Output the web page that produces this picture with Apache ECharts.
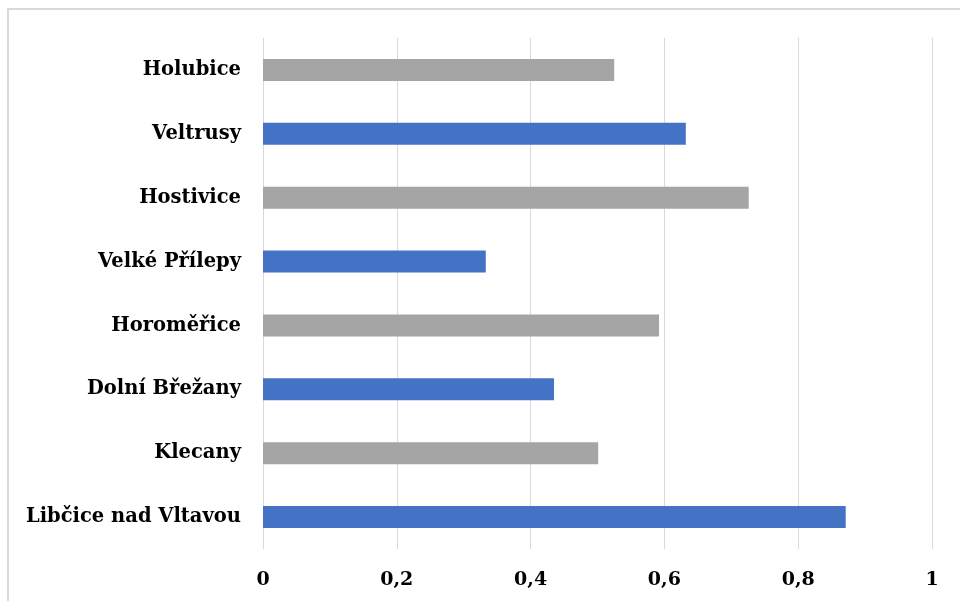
<!DOCTYPE html>
<html>
<head>
<meta charset="utf-8">
<script src="https://cdn.jsdelivr.net/npm/echarts@6/dist/echarts.min.js"></script>
<style>html,body{margin:0;padding:0;background:#fff}#c{width:960px;height:601px}</style>
</head>
<body>
<div id="c"></div>
<script>
const categories = ["Libčice nad Vltavou","Klecany","Dolní Břežany","Horoměřice","Velké Přílepy","Hostivice","Veltrusy","Holubice"];
const values = [0.871,0.501,0.435,0.592,0.333,0.726,0.632,0.525];
const barColors = ["#4472C4","#A5A5A5","#4472C4","#A5A5A5","#4472C4","#A5A5A5","#4472C4","#A5A5A5"];
const xTicks = {min:0,max:1,interval:0.2};

const chart = echarts.init(document.getElementById('c'));
const font = '"DejaVu Serif", serif';
chart.setOption({
  animation:false,
  graphic:[{type:'rect',shape:{x:8,y:9,width:1200,height:1200},style:{fill:'none',stroke:'#d9d9d9',lineWidth:2},silent:true}],
  grid:{left:263,right:28,top:38,bottom:52,containLabel:false},
  xAxis:{type:'value',min:xTicks.min,max:xTicks.max,interval:xTicks.interval,
    axisLine:{show:false},axisTick:{show:false},
    splitLine:{show:true,lineStyle:{color:'#d9d9d9',width:1}},
    axisLabel:{margin:22,color:'#000',fontFamily:font,fontWeight:'bold',fontSize:19,
      formatter:v=>String(Math.round(v*10)/10).replace('.',',')}},
  yAxis:{type:'category',data:categories,
    axisLine:{show:false},axisTick:{show:false},
    axisLabel:{margin:22,color:'#000',fontFamily:font,fontWeight:'bold',fontSize:19.5,padding:[4,0,0,0]}},
  series:[{type:'bar',barCategoryGap:'65.6%',
    data:values.map((v,i)=>({value:v,itemStyle:{color:barColors[i]}}))}]
});
</script>
</body>
</html>
